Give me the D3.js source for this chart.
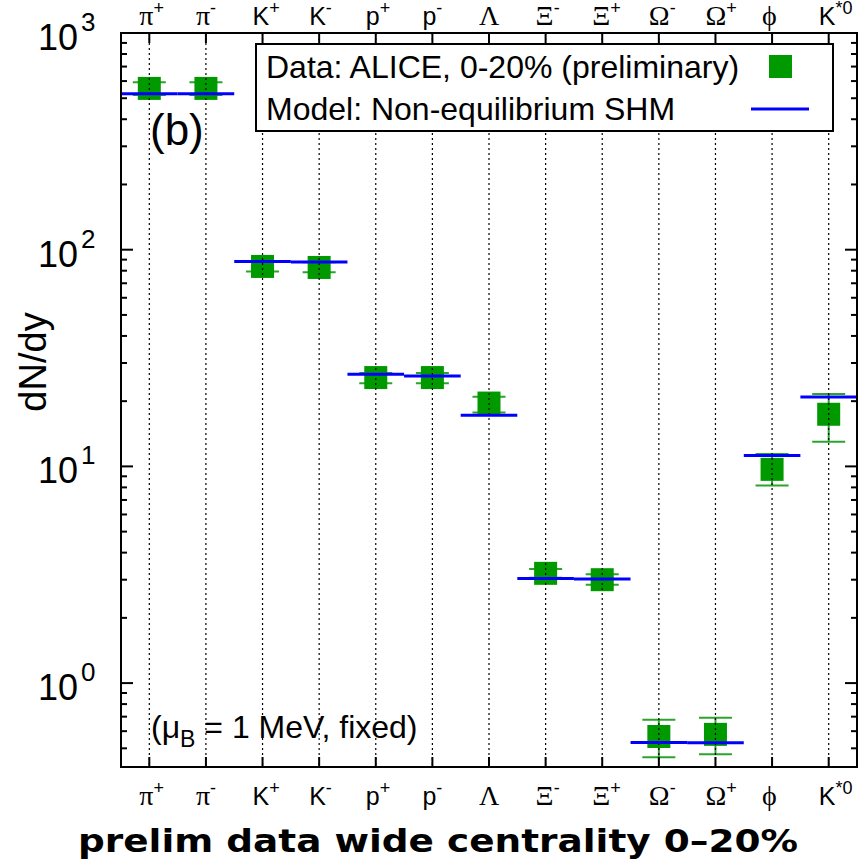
<!DOCTYPE html>
<html>
<head>
<meta charset="utf-8">
<script src="https://d3js.org/d3.v7.min.js"></script>
<style>
  body { margin: 0; background: #fff; }
  svg { display: block; }
  text { font-family: "Liberation Sans", Arial, sans-serif; fill: #000; }
  .greek { font-family: "Liberation Serif", "DejaVu Serif", serif; }
</style>
</head>
<body>
<svg id="chart" width="859" height="865"></svg>
<script>
// particle species (base symbol, superscript, greek?)
var species = ["π", "π", "K", "K", "p", "p", "Λ", "Ξ", "Ξ", "Ω", "Ω", "ϕ", "K"];
var charges = ["+", "-", "+", "-", "+", "-", "", "-", "+", "-", "+", "", "*0"];
var isGreek = [true, true, false, false, false, false, true, true, true, true, true, true, false];

// ALICE 0-20% preliminary yields and error bar ends
var dataVals = [555, 555, 83.7, 82.8, 25.7, 25.7, 19.6, 3.21, 3.00, 0.567, 0.580, 9.69, 17.4];
var errHigh  = [593, 593, 88.3, 87.5, 27.0, 27.0, 20.96, 3.36, 3.18, 0.677, 0.692, 11.4, 21.6];
var errLow   = [517, 517, 79.4, 78.6, 24.2, 24.2, 17.75, 3.06, 2.84, 0.455, 0.469, 8.17, 13.0];

// non-equilibrium SHM model
var modelVals = [524, 524, 88.3, 87.7, 26.6, 26.1, 17.2, 3.04, 3.02, 0.532, 0.530, 11.24, 20.9];

var yMajor = [1, 10, 100, 1000];
var yLabelExp = ["0", "1", "2", "3"];

var svg = d3.select("#chart");
var pLeft = 121, pRight = 857, pTop = 33, pBottom = 767;

var x = d3.scaleLinear().domain([0.5, 13.5]).range([pLeft, pRight]);
var y = d3.scaleLog().domain([0.41, 1000]).range([pBottom, pTop]);

var idx = d3.range(1, 14);

// minor ticks
var minor = [];
[0.1, 1, 10, 100].forEach(function(d) {
  for (var k = 2; k <= 9; k++) {
    var v = d * k;
    if (v >= 0.41 && v <= 1000) minor.push(v);
  }
});

// data: whiskers
var g = svg.append("g");
g.selectAll(".evert").data(idx).enter().append("line")
  .attr("x1", function(d) { return x(d); })
  .attr("x2", function(d) { return x(d); })
  .attr("y1", function(d, i) { return y(errHigh[i]); })
  .attr("y2", function(d, i) { return y(errLow[i]); })
  .attr("stroke", "#2aa52a").attr("stroke-width", 2);
[errHigh, errLow].forEach(function(arr) {
  g.selectAll(null).data(idx).enter().append("line")
    .attr("x1", function(d) { return x(d) - 16.5; })
    .attr("x2", function(d) { return x(d) + 16.5; })
    .attr("y1", function(d, i) { return y(arr[i]); })
    .attr("y2", function(d, i) { return y(arr[i]); })
    .attr("stroke", "#2aa52a").attr("stroke-width", 2);
});

// squares
g.selectAll(".sq").data(idx).enter().append("rect")
  .attr("x", function(d) { return x(d) - 11.5; })
  .attr("y", function(d, i) { return y(dataVals[i]) - 11.5; })
  .attr("width", 23).attr("height", 23)
  .attr("fill", "#009900");

// dotted grid at each species
svg.selectAll(".grid").data(idx).enter().append("line")
  .attr("x1", function(d) { return x(d); })
  .attr("x2", function(d) { return x(d); })
  .attr("y1", pTop).attr("y2", pBottom)
  .attr("stroke", "#000").attr("stroke-width", 1.2)
  .attr("stroke-dasharray", "2,3");

// model lines
svg.selectAll(".model").data(idx).enter().append("line")
  .attr("x1", function(d) { return x(d - 0.5); })
  .attr("x2", function(d) { return x(d + 0.5); })
  .attr("y1", function(d, i) { return y(modelVals[i]); })
  .attr("y2", function(d, i) { return y(modelVals[i]); })
  .attr("stroke", "#0000ff").attr("stroke-width", 3);

// frame
svg.append("rect")
  .attr("x", pLeft).attr("y", pTop)
  .attr("width", pRight - pLeft).attr("height", pBottom - pTop)
  .attr("fill", "none").attr("stroke", "#000").attr("stroke-width", 2);

// y ticks, both sides, inward
function yTicks(vals, len) {
  svg.selectAll(null).data(vals).enter().append("line")
    .attr("x1", pLeft).attr("x2", pLeft + len)
    .attr("y1", function(d) { return y(d); }).attr("y2", function(d) { return y(d); })
    .attr("stroke", "#000").attr("stroke-width", 2);
  svg.selectAll(null).data(vals).enter().append("line")
    .attr("x1", pRight).attr("x2", pRight - len)
    .attr("y1", function(d) { return y(d); }).attr("y2", function(d) { return y(d); })
    .attr("stroke", "#000").attr("stroke-width", 2);
}
yTicks(yMajor, 12);
yTicks(minor, 6);

// x ticks top and bottom
svg.selectAll(null).data(idx).enter().append("line")
  .attr("x1", function(d) { return x(d); }).attr("x2", function(d) { return x(d); })
  .attr("y1", pTop).attr("y2", pTop + 10)
  .attr("stroke", "#000").attr("stroke-width", 2);
svg.selectAll(null).data(idx).enter().append("line")
  .attr("x1", function(d) { return x(d); }).attr("x2", function(d) { return x(d); })
  .attr("y1", pBottom).attr("y2", pBottom - 10)
  .attr("stroke", "#000").attr("stroke-width", 2);

// y tick labels
yMajor.forEach(function(v, i) {
  svg.append("text")
    .attr("x", 78).attr("y", y(v) + 17)
    .attr("text-anchor", "end")
    .style("font-size", "36px")
    .text("10");
  svg.append("text")
    .attr("x", 81).attr("y", y(v) - 2)
    .style("font-size", "26px")
    .text(yLabelExp[i]);
});

// species labels
function speciesLabels(baseY) {
  idx.forEach(function(d, i) {
    var t = svg.append("text")
      .attr("x", x(d) - 10).attr("y", baseY)
      .style("font-size", "25px");
    t.append("tspan").attr("class", isGreek[i] ? "greek" : null)
      .style("font-size", isGreek[i] ? "28px" : "25px")
      .text(species[i]);
    if (charges[i]) {
      t.append("tspan").attr("dy", -11).style("font-size", "18px").text(charges[i]);
    }
  });
}
speciesLabels(25);
speciesLabels(805);

// axis titles
svg.append("text")
  .attr("transform", "translate(46,362) rotate(-90)")
  .attr("text-anchor", "middle")
  .style("font-size", "38px")
  .text("dN/dy");

svg.append("text")
  .attr("x", 78).attr("y", 852)
  .attr("textLength", 720).attr("lengthAdjust", "spacingAndGlyphs")
  .style("font-family", "'DejaVu Sans', sans-serif")
  .style("font-weight", "bold")
  .style("font-size", "32px")
  .text("prelim data wide centrality 0–20%");

// panel tag
svg.append("text").attr("x", 150).attr("y", 145)
  .style("font-size", "44px").text("(b)");

// parameter note
var note = svg.append("text").attr("x", 151).attr("y", 738).style("font-size", "32px");
note.append("tspan").text("(μ");
note.append("tspan").attr("dy", 9).style("font-size", "23px").text("B");
note.append("tspan").attr("dy", -9).text(" = 1 MeV, fixed)");

// legend
var lg = svg.append("g");
lg.append("rect").attr("x", 256).attr("y", 44).attr("width", 577).attr("height", 87)
  .attr("fill", "#fff").attr("stroke", "#000").attr("stroke-width", 2);
lg.append("text").attr("x", 266).attr("y", 78).style("font-size", "32px")
  .text("Data: ALICE, 0-20% (preliminary)");
lg.append("text").attr("x", 266).attr("y", 120).style("font-size", "32px")
  .text("Model: Non-equilibrium SHM");
lg.append("rect").attr("x", 769).attr("y", 55).attr("width", 23).attr("height", 23)
  .attr("fill", "#009900");
lg.append("line").attr("x1", 751).attr("x2", 809).attr("y1", 109).attr("y2", 109)
  .attr("stroke", "#0000ff").attr("stroke-width", 3);
</script>
</body>
</html>
